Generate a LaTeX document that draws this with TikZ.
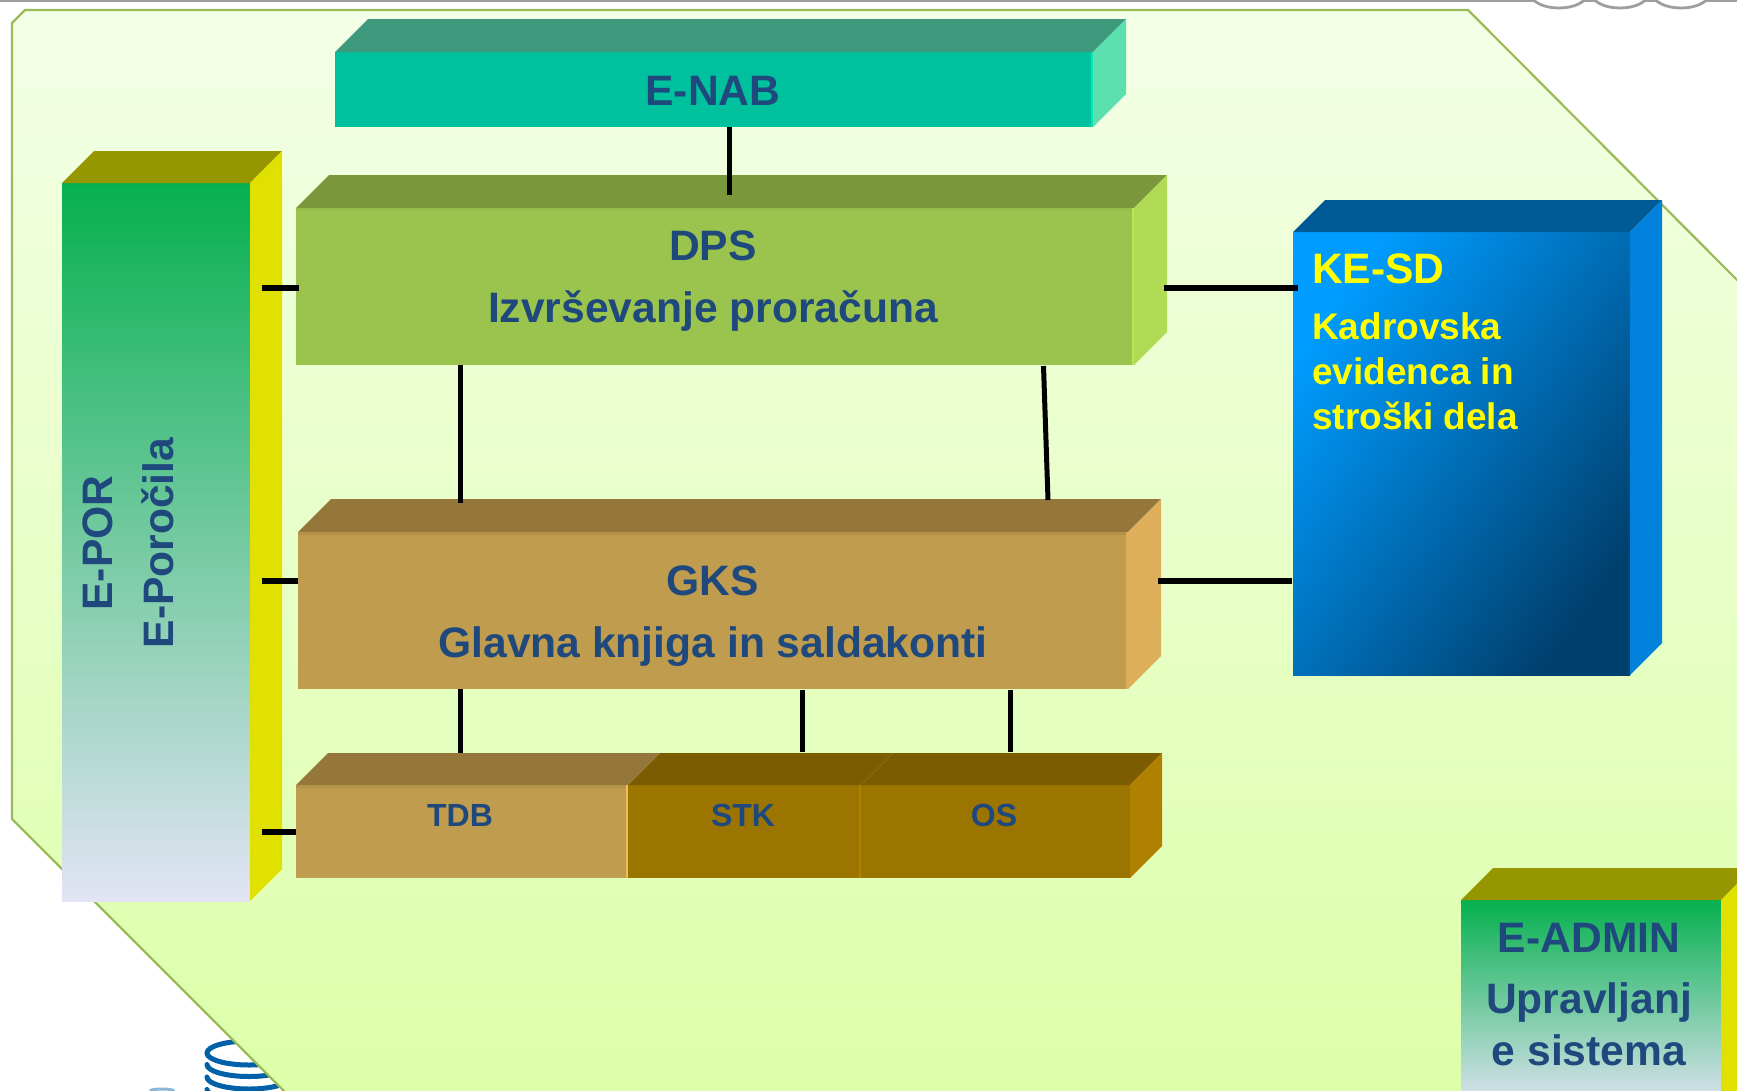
\documentclass[tikz,border=0pt]{standalone}
\usepackage{fontspec}
\setmainfont{Liberation Sans}
\usetikzlibrary{calc}
\definecolor{txtblue}{HTML}{1F497D}
\definecolor{txtyel}{RGB}{255,255,0}
\definecolor{ringblue}{HTML}{0060A8}
\definecolor{FFtop}{HTML}{F3FFE6}
\definecolor{FFbot}{HTML}{DCFFA8}
\definecolor{panelline}{HTML}{9BBB59}
\definecolor{enabf}{HTML}{00C19E}
\definecolor{enabt}{HTML}{3E9A7C}
\definecolor{enabs}{HTML}{5CE0B0}
\definecolor{dpsf}{HTML}{9BC44F}
\definecolor{dpst}{HTML}{7A973C}
\definecolor{dpss}{HTML}{B0DC55}
\definecolor{gksf}{HTML}{BF9C4E}
\definecolor{gkst}{HTML}{95763B}
\definecolor{gkss}{HTML}{DDAF5A}
\definecolor{stkf}{HTML}{9C7400}
\definecolor{stkt}{HTML}{7C5C00}
\definecolor{stks}{HTML}{B08000}
\definecolor{eatop}{HTML}{06B04F}
\definecolor{eabot}{HTML}{E2E4F4}
\definecolor{eat}{HTML}{969600}
\definecolor{eas}{HTML}{E1E100}
\definecolor{kea}{HTML}{009CFF}
\definecolor{keb}{HTML}{0082D8}
\definecolor{kec}{HTML}{00406E}
\definecolor{ket}{HTML}{005A96}
\definecolor{kes}{HTML}{0082DC}
\definecolor{enabe}{HTML}{00E8B8}
\definecolor{dpse}{HTML}{B8E850}
\definecolor{tdbe}{HTML}{EEBE5E}
\tikzset{
  lbl/.style={anchor=base,inner sep=0pt,text=txtblue,font=\bfseries\fontsize{42.6}{42.6}\selectfont},
  small/.style={lbl,font=\bfseries\fontsize{32}{32}\selectfont},
  yel/.style={lbl,anchor=base west,text=txtyel},
  yels/.style={yel,font=\bfseries\fontsize{37}{37}\selectfont},
  link/.style={draw=black,line width=6pt},
  vlink/.style={draw=black,line width=5pt},
  ring/.style={draw=ringblue,line width=5pt,line cap=round},
  strip/.style={line width=2.4pt},
  band/.style={line width=3pt},
}
% name, x0, y0, x1, y1, front options, top colour, side colour, depth
\newcommand\prism[9]{%
  \node[anchor=north west,inner sep=0pt,outer sep=0pt,
        minimum width={(#4-#2)*1pt},minimum height={(#5-#3)*1pt},#6] (#1) at (#2,#3) {};
  \fill[#7] (#1.north west) -- ++(#9,-#9) -- ($(#1.north east)+(#9,-#9)$) -- (#1.north east) -- cycle;
  \fill[#8] (#1.north east) -- ++(#9,-#9) -- ($(#1.south east)+(#9,-#9)$) -- (#1.south east) -- cycle;
}
\begin{document}
\begin{tikzpicture}[x=1pt,y=-1pt]
\useasboundingbox (0,0) rectangle (1737,1090);
\clip (0,0) rectangle (1737,1090);
% top rule with rings
\draw[draw=black!38,line width=2.4pt] (0,0.5) -- (1737,0.5);
\foreach \cx in {1559,1620,1681}
  \draw[draw=black!38,line width=2.8pt,fill=white] (\cx,-6) ellipse [x radius=28,y radius=14];
% database rings behind the panel
\draw[ring] (249,1053) ellipse [x radius=42,y radius=12];
\foreach \ry in {1064.5,1077,1089.5}
  \draw[ring] (207,\ry) arc [start angle=180,end angle=0,x radius=42,y radius=12];
\draw[draw=ringblue!45,line width=3pt] (150,1091) arc [start angle=180,end angle=360,x radius=12,y radius=2];
% panel
\path[top color=FFtop,bottom color=FFbot,draw=panelline,line width=2.2pt]
  (12,23) -- (25,10) -- (1468,10) -- (1760,303) -- (1760,1120) -- (313,1120) -- (12,819) -- cycle;
% boxes
\prism{enab}{335}{52}{1093}{127}{fill=enabf}{fill=enabt}{fill=enabs}{33}
\prism{dps}{296}{208}{1134}{365}{fill=dpsf}{fill=dpst}{fill=dpss}{33}
\prism{gks}{298}{532}{1128}{689}{fill=gksf}{fill=gkst}{fill=gkss}{33}
\prism{tdb}{296}{785}{628}{878}{fill=gksf}{fill=gkst}{fill=gkss}{32}
\prism{stk}{628}{785}{861}{878}{fill=stkf}{fill=stkt}{fill=stks}{32}
\prism{os}{861}{785}{1130}{878}{fill=stkf}{fill=stkt}{fill=stks}{32}
\prism{epor}{62}{183}{250}{901}{top color=eatop,bottom color=eabot}{fill=eat}{fill=eas}{32}
\prism{kesd}{1293}{232}{1630}{675}{top color=kea,middle color=keb,bottom color=kec,shading angle=55}{fill=ket}{fill=kes}{32}
\prism{eadmin}{1461}{900}{1721}{1110}{top color=eatop,bottom color=eabot}{fill=eat}{fill=eas}{32}
% bevel strips
\draw[strip,draw=enabe] ([xshift=-1pt]enab.north east) -- ([xshift=-1pt]enab.south east);
\draw[strip,draw=dpse] ([xshift=-1pt]dps.north east) -- ([xshift=-1pt]dps.south east);
\draw[strip,draw=gkss] ([xshift=-1pt]gks.north east) -- ([xshift=-1pt]gks.south east);
\draw[strip,draw=tdbe] ([xshift=-1pt]tdb.north east) -- ([xshift=-1pt]tdb.south east);
\draw[strip,draw=stks] ([xshift=-1pt]stk.north east) -- ([xshift=-1pt]stk.south east);
\draw[band,draw=dpsf!85!dpst] ([yshift=-1.5pt]dps.north west) -- ([yshift=-1.5pt,xshift=-2pt]dps.north east);
\draw[band,draw=gksf!75!gkst] ([yshift=-1.5pt]gks.north west) -- ([yshift=-1.5pt,xshift=-2pt]gks.north east);
\draw[band,draw=gksf!75!gkst] ([yshift=-1.5pt]tdb.north west) -- ([yshift=-1.5pt,xshift=-2pt]tdb.north east);
% labels
\node[lbl] (t1) at (713,105) {E-NAB};
\node[lbl] (t2) at (713,260) {DPS};
\node[lbl] (t3) at (713,322) {Izvrševanje proračuna};
\node[lbl] (t4) at (713,595) {GKS};
\node[lbl] (t5) at (713,657) {Glavna knjiga in saldakonti};
\node[small] (t6) at (460,826) {TDB};
\node[small] (t7) at (743,826) {STK};
\node[small] (t8) at (994,826) {OS};
\node[lbl,rotate=90] (t9) at (112,543) {E-POR};
\node[lbl,rotate=90] (t10) at (173,543) {E-Poročila};
\node[yel] (t11) at (1312,283) {KE-SD};
\node[yels] (t12) at (1312,339) {Kadrovska};
\node[yels] (t13) at (1312,384) {evidenca in};
\node[yels] (t14) at (1312,429) {stroški dela};
\node[lbl] (t15) at (1589,952) {E-ADMIN};
\node[lbl] (t16) at (1589,1013) {Upravljanj};
\node[lbl] (t17) at (1589,1065) {e sistema};
% connector ends
\coordinate (a1) at (729,127);   \coordinate (a2) at (729,195);
\coordinate (b1) at (262,288);   \coordinate (b2) at (299,288);
\coordinate (c1) at (1164,288);  \coordinate (c2) at (1298,288);
\coordinate (d1) at (460,365);   \coordinate (d2) at (460,503);
\coordinate (e1) at (1043.5,366);\coordinate (e2) at (1048,500);
\coordinate (f1) at (262,580.5); \coordinate (f2) at (298,580.5);
\coordinate (g1) at (1158,580.5);\coordinate (g2) at (1292,580.5);
\coordinate (h1) at (460,689);   \coordinate (h2) at (460,753);
\coordinate (i1) at (802,690);   \coordinate (i2) at (802,752);
\coordinate (j1) at (1010,690);  \coordinate (j2) at (1010,752);
\coordinate (k1) at (262,832);   \coordinate (k2) at (296,832);
\foreach \p/\q in {b1/b2,c1/c2,f1/f2,g1/g2,k1/k2}
  \draw[link] (\p) -- (\q);
\foreach \p/\q in {a1/a2,d1/d2,e1/e2,h1/h2,i1/i2,j1/j2}
  \draw[vlink] (\p) -- (\q);
\end{tikzpicture}
\end{document}
